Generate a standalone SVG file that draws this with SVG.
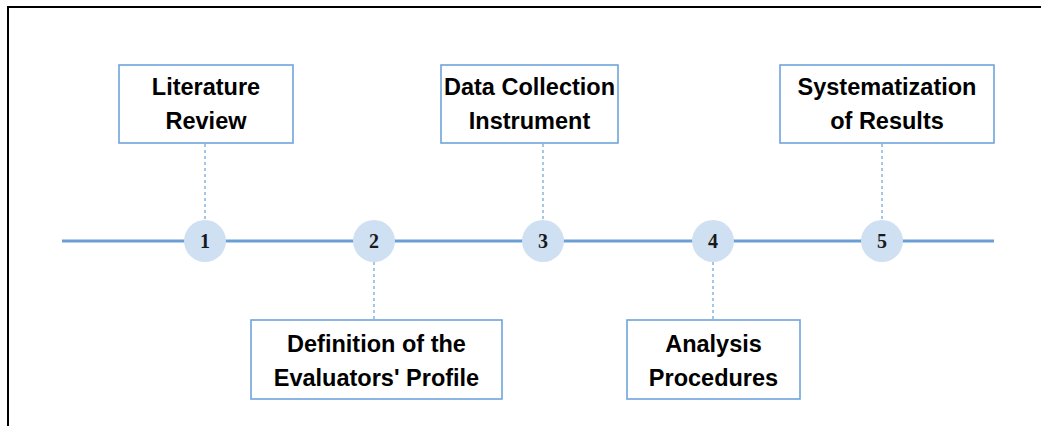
<svg xmlns="http://www.w3.org/2000/svg" width="1041" height="426" viewBox="0 0 1041 426">
<style>
.box{fill:#fff;stroke:#6fa3dc;stroke-width:1.6}
.lbl{font-family:"Liberation Sans",Arial,sans-serif;font-weight:bold;font-size:23.5px;fill:#000;text-anchor:middle}
.dot{fill:#cfe0f2}
.num{font-family:"Liberation Serif","Times New Roman",serif;font-weight:bold;font-size:20px;fill:#1a1a1a;text-anchor:middle}
.dash{stroke:#8fb8e2;stroke-width:1.6;stroke-dasharray:3 3;fill:none}
</style>
<rect width="1041" height="426" fill="#fff"/>
<path d="M8 426 V7 H1041" fill="none" stroke="#000" stroke-width="2"/>
<g id="connectors">
<line x1="62" y1="241" x2="994" y2="241" stroke="#6a9fd6" stroke-width="3"/>
<line class="dash" x1="205" y1="144" x2="205" y2="220"/>
<line class="dash" x1="374" y1="262" x2="374" y2="320"/>
<line class="dash" x1="543" y1="144" x2="543" y2="220"/>
<line class="dash" x1="713" y1="262" x2="713" y2="320"/>
<line class="dash" x1="882" y1="144" x2="882" y2="220"/>
</g>
<g id="step1"><circle class="dot" cx="205" cy="241" r="21"/><text class="num" x="205" y="248">1</text></g>
<g id="step2"><circle class="dot" cx="374" cy="241" r="21"/><text class="num" x="374" y="248">2</text></g>
<g id="step3"><circle class="dot" cx="543" cy="241" r="21"/><text class="num" x="543" y="248">3</text></g>
<g id="step4"><circle class="dot" cx="713" cy="241" r="21"/><text class="num" x="713" y="248">4</text></g>
<g id="step5"><circle class="dot" cx="882" cy="241" r="21"/><text class="num" x="882" y="248">5</text></g>
<g id="box1"><rect class="box" x="119" y="65" width="174" height="78"/><text class="lbl" x="206" y="95">Literature</text><text class="lbl" x="206" y="129">Review</text></g>
<g id="box2"><rect class="box" x="251" y="320" width="251" height="79"/><text class="lbl" x="376.5" y="352">Definition of the</text><text class="lbl" x="376.5" y="386">Evaluators' Profile</text></g>
<g id="box3"><rect class="box" x="441" y="65" width="177" height="78"/><text class="lbl" x="529.5" y="95">Data Collection</text><text class="lbl" x="529.5" y="129">Instrument</text></g>
<g id="box4"><rect class="box" x="627" y="320" width="173" height="79"/><text class="lbl" x="713.5" y="352">Analysis</text><text class="lbl" x="713.5" y="386">Procedures</text></g>
<g id="box5"><rect class="box" x="780" y="65" width="214" height="78"/><text class="lbl" x="887" y="95">Systematization</text><text class="lbl" x="887" y="129">of Results</text></g>
</svg>
